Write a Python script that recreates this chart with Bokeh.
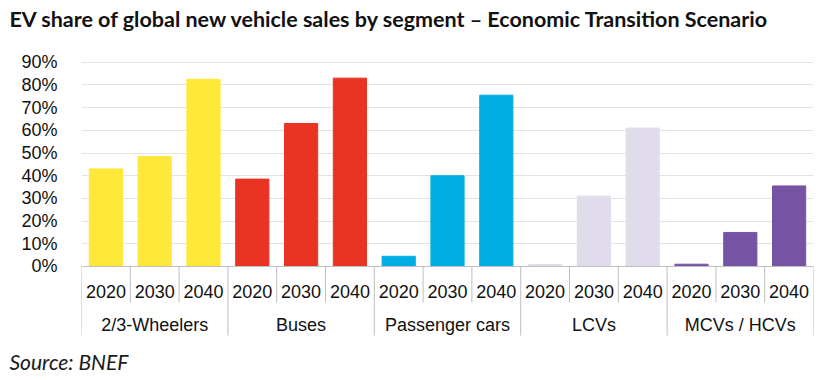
from bokeh.plotting import figure
from bokeh.models import Range1d, FixedTicker, PrintfTickFormatter, Title, ColumnDataSource, Span
from bokeh.core.properties import value
from bokeh.embed import file_html
from bokeh.resources import INLINE

# ---- data ----
segments = ["2/3-Wheelers", "Buses", "Passenger cars", "LCVs", "MCVs / HCVs"]
years = ["2020", "2030", "2040"]
share_2020 = [43.0, 38.5, 4.5, 0.9, 1.0]
share_2030 = [48.5, 63.0, 40.0, 31.0, 15.0]
share_2040 = [82.5, 83.0, 75.5, 61.0, 35.5]
y_ticks = [0, 10, 20, 30, 40, 50, 60, 70, 80, 90]
title_text = "EV share of global new vehicle sales by segment \u2013 Economic Transition Scenario"
source_text = "Source: BNEF"

# ---- style ----
seg_colors = ["#FFE83A", "#E93323", "#00AEE4", "#E1DCEC", "#7753A4"]
LABEL_FONT = "Liberation Sans"
SEP_COLOR = "#BFBFBF"

W, H = 821, 376
FRAME_L, FRAME_R, FRAME_T, FRAME_B = 81, 813, 57, 337

# frame geometry: pixels -> data units
FRAME_H = FRAME_B - FRAME_T
Y_TOP = 92.1
Y_BOTTOM = -31.3
PX = (Y_TOP - Y_BOTTOM) / FRAME_H

def below(npx):
    return -npx * PX

# ---- build columns ----
xs, tops, cols, yr_lbl = [], [], [], []
series = [share_2020, share_2030, share_2040]
for g, seg in enumerate(segments):
    for k, yr in enumerate(years):
        xs.append(g * len(years) + k + 0.5)
        tops.append(series[k][g])
        cols.append(seg_colors[g])
        yr_lbl.append(yr)

n = len(xs)
bars = ColumnDataSource(dict(x=xs, top=tops, color=cols, label=yr_lbl,
                             ly=[below(25)] * n))

sep_x = list(range(n + 1))
sep_y1 = [below(69) if i % len(years) == 0 else below(36) for i in sep_x]
seps = ColumnDataSource(dict(x=sep_x, y0=[0] * len(sep_x), y1=sep_y1))

grp_x = [g * len(years) + len(years) / 2 for g in range(len(segments))]
grps = ColumnDataSource(dict(x=grp_x, y=[below(59)] * len(segments), label=segments))

p = figure(width=W, height=H, x_range=Range1d(0, n), y_range=Range1d(Y_BOTTOM, Y_TOP),
           output_backend="svg", toolbar_location=None,
           min_border_left=FRAME_L, min_border_right=W - FRAME_R,
           min_border_top=FRAME_T, min_border_bottom=H - FRAME_B)
p.outline_line_color = None
p.xaxis.visible = False
p.xgrid.visible = False

# real title on top, then a spacer between it and the frame
p.title = Title(text=title_text, align="left", offset=-72, vertical_align="bottom",
                text_font="Lato", text_font_size="21.5px", text_font_style="bold",
                text_color="#111111", standoff=0)
p.add_layout(Title(text=" ", text_font="Lato", text_font_size="10px", standoff=12), "above")

# spacer below the frame, then the source line
p.add_layout(Title(text=" ", text_font="Lato", text_font_size="5px", standoff=1), "below")
p.add_layout(Title(text=source_text, align="left", offset=-72, vertical_align="bottom",
                   text_font="Lato", text_font_size="21px", text_font_style="italic",
                   text_color="#1a1a1a", standoff=0), "below")

yax = p.yaxis[0]
yax.ticker = FixedTicker(ticks=y_ticks)
yax.formatter = PrintfTickFormatter(format="%d%%")
yax.major_label_text_font = LABEL_FONT
yax.major_label_text_font_size = "18px"
yax.major_label_text_color = "#111111"
yax.axis_line_color = None
yax.major_tick_line_color = None
yax.minor_tick_line_color = None
yax.major_label_standoff = 18

p.ygrid.ticker = FixedTicker(ticks=y_ticks[1:])
p.ygrid.grid_line_color = "#E3E3E3"

p.vbar(x="x", top="top", bottom=0, width=0.68, color="color", source=bars)

p.add_layout(Span(location=0, dimension="width", line_color=SEP_COLOR, line_width=1))
p.segment(x0="x", y0="y0", x1="x", y1="y1", source=seps, line_color=SEP_COLOR, line_width=1)

p.text(x="x", y="ly", text="label", source=bars, text_align="center", text_baseline="middle",
       text_font=value(LABEL_FONT), text_font_size="18px", text_color="#111111")
p.text(x="x", y="y", text="label", source=grps, text_align="center", text_baseline="middle",
       text_font=value(LABEL_FONT), text_font_size="18px", text_color="#111111")

open("out.html", "w").write(file_html(p, INLINE))
